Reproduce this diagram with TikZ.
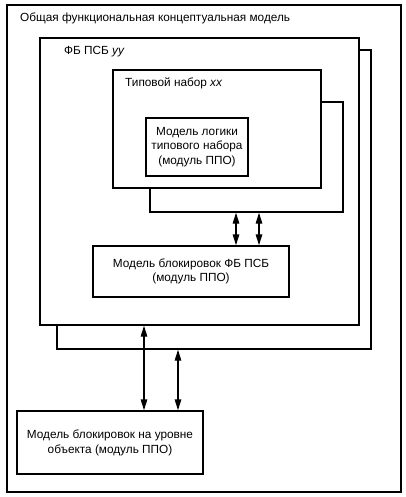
\documentclass[tikz,border=0pt]{standalone}
\usepackage{fontspec}
\setmainfont{Liberation Sans}
\usetikzlibrary{arrows.meta}
\begin{document}
\begin{tikzpicture}[x=1pt,y=-1pt,
  box/.style={draw=black,line width=1.4pt,fill=white,minimum width=#1,inner sep=0pt},
  lbl/.style={font=\fontsize{11.8}{14}\selectfont,inner sep=0pt},
  ctext/.style={font=\fontsize{11.8}{14.5}\selectfont,align=center,inner sep=0pt},
  dbl/.style={line width=1.4pt,{Triangle[length=11pt,width=6.5pt]}-{Triangle[length=11pt,width=6.5pt]}}]
\useasboundingbox (0,0) rectangle (406,497);
% outer
\node[box=394pt,minimum height=487pt] (outer) at (204,248.5) {};
\node[lbl,anchor=west] (outerlbl) at (20,18) {Общая функциональная концептуальная модель};
% FB PSB
\node[box=314pt,minimum height=299pt] (fbsh) at (214,199.5) {};
\node[box=319pt,minimum height=287pt] (fb) at (199.5,181.5) {};
\node[lbl,anchor=west] (fblbl) at (64,52) {ФБ ПСБ \textit{уу}};
% typical set
\node[box=193pt,minimum height=110pt] (tnsh) at (246.5,157) {};
\node[box=208pt,minimum height=118pt] (tn) at (217,129) {};
\node[lbl,anchor=west] (tnlbl) at (125,83) {Типовой набор \textit{хх}};
\node[box=102pt,minimum height=58pt] (logic) at (197,147) {};
\node[ctext] (logict) at (197,147) {Модель логики\\типового набора\\(модуль ППО)};
% interlocking FB PSB
\node[box=196pt,minimum height=51pt] (blok) at (191,271.5) {};
\node[ctext] (blokt) at (191,271.5) {Модель блокировок ФБ ПСБ\\(модуль ППО)};
% object level
\node[box=186pt,minimum height=63pt] (obj) at (110,442.5) {};
\node[ctext] (objt) at (110,443) {Модель блокировок на уровне\\объекта (модуль ППО)};
% arrows
\coordinate (a1) at (236,0);
\coordinate (a2) at (259,0);
\coordinate (b1) at (144,0);
\coordinate (b2) at (178,0);
\draw[dbl] (tnsh.south -| a1) -- (blok.north -| a1);
\draw[dbl] (tnsh.south -| a2) -- (blok.north -| a2);
\draw[dbl] (fb.south -| b1) -- (obj.north -| b1);
\draw[dbl] (fbsh.south -| b2) -- (obj.north -| b2);
\end{tikzpicture}
\end{document}
